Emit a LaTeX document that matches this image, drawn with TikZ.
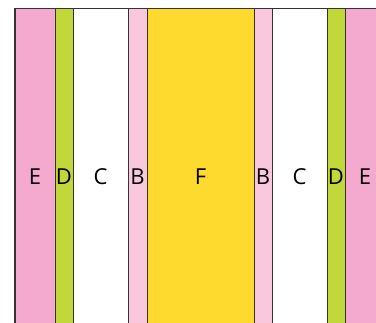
\documentclass[tikz,border=0pt]{standalone}
\usepackage{fontspec}
\setmainfont{Open Sans}
\definecolor{pinkE}{RGB}{244,169,206}
\definecolor{greenD}{RGB}{193,216,56}
\definecolor{pinkB}{RGB}{250,200,221}
\definecolor{yellowF}{RGB}{254,217,46}
\tikzset{
  band/.style={draw=black!80, line width=1pt},
  letter/.style={font=\fontsize{22}{26}\selectfont, inner sep=0pt}
}
\begin{document}
\begin{tikzpicture}[x=1pt,y=-1pt]
    \useasboundingbox (0,0) rectangle (376,323);
    \clip (0,0) rectangle (376,323);

    % Bands: left / right / colour / label / name
    \foreach \l/\r/\c/\t/\n in {15/55/pinkE/E/eLeft, 55/73/greenD/D/dLeft, 73/128/white/C/cLeft,
        128/147/pinkB/B/bLeft, 147/254/yellowF/F/fMid, 254/272/pinkB/B/bRight,
        272/327/white/C/cRight, 327/345/greenD/D/dRight, 345/385/pinkE/E/eRight}
    {
        \draw[band, fill=\c] (\l,9) rectangle (\r,340);
        \node[letter] (\n) at ({(\l+\r)/2},177) {\t};
    }
\end{tikzpicture}
\end{document}
